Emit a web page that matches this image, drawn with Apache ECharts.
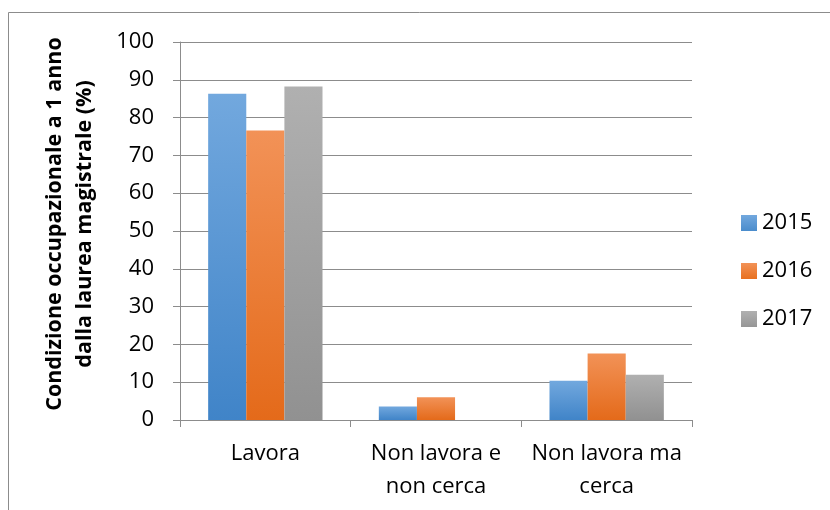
<!DOCTYPE html>
<html><head><meta charset="utf-8">
<script src="https://cdn.jsdelivr.net/npm/echarts@6/dist/echarts.min.js"></script>
<style>html,body{margin:0;padding:0;background:#fff}#c{width:830px;height:510px}</style>
</head><body><div id="c"></div>
<script>
const categories = ['Lavora', 'Non lavora e\nnon cerca', 'Non lavora ma\ncerca'];
const years = ['2015', '2016', '2017'];
const v2015 = [86.3, 3.6, 10.4];
const v2016 = [76.6, 6.0, 17.6];
const v2017 = [88.2, 0, 12.0];
const yTicks = [0, 10, 20, 30, 40, 50, 60, 70, 80, 90, 100];
const yTitle = 'Condizione occupazionale a 1 anno\ndalla laurea magistrale (%)';

const FONT = '"Open Sans", sans-serif';
function grad(top, bottom) {
  return {type: 'linear', x: 0, y: 0, x2: 0, y2: 1,
    colorStops: [{offset: 0, color: top}, {offset: 1, color: bottom}]};
}
const styles = [
  {color: grad('#72a8de', '#4084c8'), legend: grad('#72a8de', '#4a8ccc')},
  {color: grad('#f29257', '#e46a1a'), legend: grad('#f29257', '#e8701f')},
  {color: grad('#b0b0b0', '#919191'), legend: grad('#b0b0b0', '#969696')}
];
const seriesData = [v2015, v2016, v2017];

const chart = echarts.init(document.getElementById('c'), null, {renderer: 'canvas'});
chart.setOption({
  backgroundColor: '#fff',
  animation: false,
  graphic: [{type: 'rect', shape: {x: 8.5, y: 12.5, width: 840, height: 520},
    style: {fill: 'none', stroke: '#8c8c8c', lineWidth: 1}, z: -1}],
  grid: {left: 180, right: 138, top: 42, bottom: 90},
  legend: {
    orient: 'vertical', left: 736, top: 207, itemWidth: 16, itemHeight: 16, itemGap: 26,
    icon: 'rect',
    textStyle: {fontFamily: FONT, fontSize: 22, color: '#000'},
    data: years.map((y, i) => ({name: y, itemStyle: {color: styles[i].legend}}))
  },
  xAxis: {
    type: 'category', data: categories,
    axisLine: {lineStyle: {color: '#8c8c8c', width: 1}},
    axisTick: {show: true, length: 7, lineStyle: {color: '#8c8c8c'}},
    axisLabel: {fontFamily: FONT, fontSize: 22, color: '#000', lineHeight: 33, margin: 17, interval: 0}
  },
  yAxis: {
    type: 'value', min: yTicks[0], max: yTicks[yTicks.length - 1], interval: 10,
    name: yTitle, nameLocation: 'middle', nameGap: 80, nameRotate: 90,
    nameTextStyle: {fontFamily: FONT, fontSize: 21.5, fontWeight: 'bold', color: '#000', lineHeight: 30, align: 'center', padding: [0, 0, 0, 14]},
    axisLine: {show: true, lineStyle: {color: '#8c8c8c', width: 1}},
    axisTick: {show: true, length: 7, lineStyle: {color: '#8c8c8c'}},
    axisLabel: {fontFamily: FONT, fontSize: 22, color: '#000', margin: 26},
    splitLine: {lineStyle: {color: '#8c8c8c', width: 1}}
  },
  series: years.map((y, i) => ({
    name: y, type: 'bar', data: seriesData[i], barGap: '0%', barCategoryGap: '33%',
    itemStyle: {color: styles[i].color}
  }))
});
</script></body></html>
